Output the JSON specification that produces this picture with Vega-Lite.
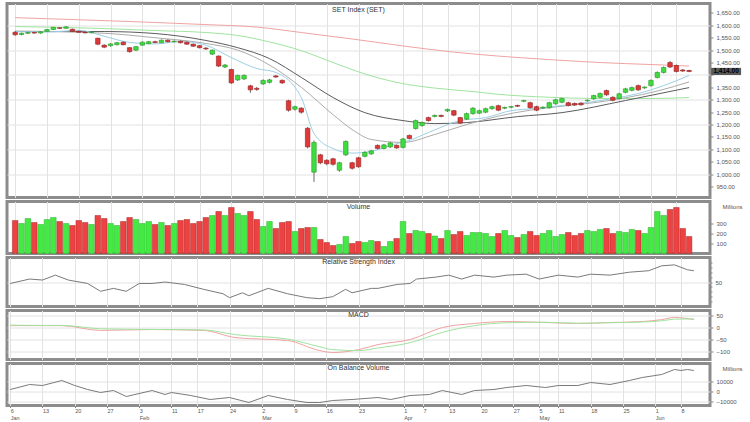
{
  "$schema": "https://vega.github.io/schema/vega-lite/v6.json",
  "padding": {"left": 5, "top": 1.5, "right": 0, "bottom": 0},
  "background": "#ffffff",
  "spacing": 0,
  "config": {
    "view": {"stroke": "#8c8c8c", "strokeWidth": 3, "fill": "#ffffff"},
    "axis": {"labelFont": "Liberation Sans", "labelFontSize": 6, "labelColor": "#555555", "tickColor": "#888888", "domain": false, "gridColor": "#e2e2e2", "gridWidth": 1, "tickSize": 3, "labelPadding": 3, "titleFont": "Liberation Sans", "labelOverlap": false},
    "title": {"font": "Liberation Sans", "fontSize": 7, "fontWeight": "normal", "color": "#333333", "anchor": "middle", "offset": -8}
  },
  "datasets": {
    "candles": [
      {"i":0,"o":1572,"h":1577,"l":1558,"c":1562,"v":330},
      {"i":1,"o":1563,"h":1570,"l":1560,"c":1568,"v":300},
      {"i":2,"o":1568,"h":1574,"l":1565,"c":1571,"v":350},
      {"i":3,"o":1571,"h":1574,"l":1566,"c":1569,"v":310},
      {"i":4,"o":1569,"h":1576,"l":1566,"c":1574,"v":290},
      {"i":5,"o":1576,"h":1585,"l":1574,"c":1583,"v":340},
      {"i":6,"o":1583,"h":1594,"l":1581,"c":1592,"v":360},
      {"i":7,"o":1590,"h":1593,"l":1585,"c":1588,"v":320},
      {"i":8,"o":1588,"h":1597,"l":1586,"c":1594,"v":300},
      {"i":9,"o":1584,"h":1587,"l":1574,"c":1576,"v":280},
      {"i":10,"o":1576,"h":1579,"l":1570,"c":1572,"v":330},
      {"i":11,"o":1572,"h":1575,"l":1567,"c":1570,"v":310},
      {"i":12,"o":1571,"h":1576,"l":1568,"c":1573,"v":290},
      {"i":13,"o":1548,"h":1550,"l":1520,"c":1524,"v":380},
      {"i":14,"o":1520,"h":1524,"l":1508,"c":1512,"v":350},
      {"i":15,"o":1518,"h":1528,"l":1514,"c":1525,"v":300},
      {"i":16,"o":1522,"h":1533,"l":1519,"c":1530,"v":280},
      {"i":17,"o":1532,"h":1535,"l":1519,"c":1522,"v":320},
      {"i":18,"o":1510,"h":1512,"l":1490,"c":1494,"v":360},
      {"i":19,"o":1500,"h":1517,"l":1496,"c":1514,"v":340},
      {"i":20,"o":1520,"h":1535,"l":1518,"c":1532,"v":300},
      {"i":21,"o":1526,"h":1537,"l":1524,"c":1534,"v":320},
      {"i":22,"o":1534,"h":1538,"l":1528,"c":1531,"v":290},
      {"i":23,"o":1530,"h":1543,"l":1528,"c":1540,"v":310},
      {"i":24,"o":1540,"h":1543,"l":1531,"c":1534,"v":280},
      {"i":25,"o":1534,"h":1539,"l":1531,"c":1536,"v":300},
      {"i":26,"o":1536,"h":1539,"l":1527,"c":1530,"v":330},
      {"i":27,"o":1532,"h":1535,"l":1521,"c":1524,"v":340},
      {"i":28,"o":1524,"h":1527,"l":1513,"c":1516,"v":300},
      {"i":29,"o":1518,"h":1521,"l":1507,"c":1510,"v":320},
      {"i":30,"o":1508,"h":1512,"l":1501,"c":1505,"v":360},
      {"i":31,"o":1484,"h":1503,"l":1480,"c":1500,"v":380},
      {"i":32,"o":1476,"h":1479,"l":1432,"c":1436,"v":420},
      {"i":33,"o":1432,"h":1444,"l":1428,"c":1440,"v":380},
      {"i":34,"o":1422,"h":1425,"l":1364,"c":1368,"v":460},
      {"i":35,"o":1380,"h":1401,"l":1376,"c":1398,"v":400},
      {"i":36,"o":1384,"h":1402,"l":1380,"c":1398,"v":380},
      {"i":37,"o":1356,"h":1360,"l":1328,"c":1340,"v":420},
      {"i":38,"o":1346,"h":1352,"l":1336,"c":1342,"v":340},
      {"i":39,"o":1364,"h":1382,"l":1360,"c":1378,"v":270},
      {"i":40,"o":1370,"h":1384,"l":1366,"c":1380,"v":320},
      {"i":41,"o":1396,"h":1400,"l":1388,"c":1392,"v":250},
      {"i":42,"o":1378,"h":1382,"l":1364,"c":1368,"v":310},
      {"i":43,"o":1296,"h":1300,"l":1252,"c":1258,"v":320},
      {"i":44,"o":1262,"h":1276,"l":1256,"c":1272,"v":220},
      {"i":45,"o":1266,"h":1270,"l":1244,"c":1250,"v":250},
      {"i":46,"o":1185,"h":1190,"l":1104,"c":1110,"v":260},
      {"i":47,"o":1008,"h":1136,"l":969,"c":1128,"v":260},
      {"i":48,"o":1078,"h":1082,"l":1040,"c":1046,"v":140},
      {"i":49,"o":1056,"h":1060,"l":1036,"c":1042,"v":110},
      {"i":50,"o":1062,"h":1066,"l":1034,"c":1040,"v":80},
      {"i":51,"o":1016,"h":1050,"l":1010,"c":1046,"v":90},
      {"i":52,"o":1078,"h":1136,"l":1074,"c":1132,"v":170},
      {"i":53,"o":1046,"h":1050,"l":1018,"c":1024,"v":100},
      {"i":54,"o":1066,"h":1070,"l":1026,"c":1030,"v":120},
      {"i":55,"o":1072,"h":1092,"l":1068,"c":1088,"v":110},
      {"i":56,"o":1082,"h":1098,"l":1078,"c":1094,"v":130},
      {"i":57,"o":1116,"h":1120,"l":1100,"c":1104,"v":120},
      {"i":58,"o":1104,"h":1122,"l":1100,"c":1118,"v":70},
      {"i":59,"o":1110,"h":1130,"l":1106,"c":1126,"v":120},
      {"i":60,"o":1116,"h":1120,"l":1102,"c":1106,"v":150},
      {"i":61,"o":1108,"h":1146,"l":1104,"c":1142,"v":320},
      {"i":62,"o":1156,"h":1160,"l":1140,"c":1144,"v":200},
      {"i":63,"o":1184,"h":1220,"l":1180,"c":1216,"v":230},
      {"i":64,"o":1196,"h":1212,"l":1192,"c":1208,"v":220},
      {"i":65,"o":1228,"h":1232,"l":1212,"c":1216,"v":200},
      {"i":66,"o":1233,"h":1240,"l":1229,"c":1237,"v":175},
      {"i":67,"o":1237,"h":1240,"l":1229,"c":1233,"v":150},
      {"i":68,"o":1255,"h":1264,"l":1251,"c":1261,"v":230},
      {"i":69,"o":1256,"h":1259,"l":1234,"c":1238,"v":190},
      {"i":70,"o":1228,"h":1231,"l":1202,"c":1206,"v":220},
      {"i":71,"o":1222,"h":1248,"l":1218,"c":1244,"v":180},
      {"i":72,"o":1244,"h":1270,"l":1240,"c":1266,"v":210},
      {"i":73,"o":1246,"h":1260,"l":1242,"c":1256,"v":210},
      {"i":74,"o":1250,"h":1268,"l":1246,"c":1264,"v":200},
      {"i":75,"o":1264,"h":1276,"l":1260,"c":1272,"v":170},
      {"i":76,"o":1276,"h":1280,"l":1254,"c":1258,"v":200},
      {"i":77,"o":1266,"h":1272,"l":1262,"c":1269,"v":230},
      {"i":78,"o":1270,"h":1275,"l":1266,"c":1272,"v":180},
      {"i":79,"o":1277,"h":1280,"l":1271,"c":1274,"v":160},
      {"i":80,"o":1294,"h":1300,"l":1290,"c":1297,"v":190},
      {"i":81,"o":1288,"h":1292,"l":1264,"c":1268,"v":220},
      {"i":82,"o":1272,"h":1276,"l":1254,"c":1258,"v":180},
      {"i":83,"o":1267,"h":1273,"l":1263,"c":1270,"v":200},
      {"i":84,"o":1268,"h":1292,"l":1264,"c":1288,"v":230},
      {"i":85,"o":1284,"h":1304,"l":1280,"c":1300,"v":170},
      {"i":86,"o":1290,"h":1308,"l":1286,"c":1305,"v":190},
      {"i":87,"o":1288,"h":1292,"l":1273,"c":1277,"v":210},
      {"i":88,"o":1285,"h":1289,"l":1275,"c":1279,"v":180},
      {"i":89,"o":1286,"h":1290,"l":1276,"c":1280,"v":200},
      {"i":90,"o":1296,"h":1301,"l":1292,"c":1298,"v":230},
      {"i":91,"o":1304,"h":1320,"l":1300,"c":1317,"v":220},
      {"i":92,"o":1310,"h":1329,"l":1306,"c":1325,"v":240},
      {"i":93,"o":1337,"h":1341,"l":1316,"c":1320,"v":250},
      {"i":94,"o":1310,"h":1314,"l":1294,"c":1298,"v":200},
      {"i":95,"o":1305,"h":1328,"l":1301,"c":1324,"v":220},
      {"i":96,"o":1330,"h":1348,"l":1326,"c":1344,"v":210},
      {"i":97,"o":1338,"h":1353,"l":1334,"c":1349,"v":240},
      {"i":98,"o":1357,"h":1361,"l":1336,"c":1340,"v":230},
      {"i":99,"o":1348,"h":1354,"l":1344,"c":1351,"v":200},
      {"i":100,"o":1357,"h":1382,"l":1353,"c":1378,"v":260},
      {"i":101,"o":1390,"h":1414,"l":1386,"c":1410,"v":420},
      {"i":102,"o":1410,"h":1434,"l":1406,"c":1430,"v":380},
      {"i":103,"o":1450,"h":1456,"l":1428,"c":1432,"v":440},
      {"i":104,"o":1438,"h":1442,"l":1410,"c":1414,"v":460},
      {"i":105,"o":1420,"h":1424,"l":1412,"c":1416,"v":250},
      {"i":106,"o":1418,"h":1421,"l":1411,"c":1414,"v":170}
    ],
    "ma": [
      {"s":"200","i":0,"v":1631},{"s":"200","i":14,"v":1619},{"s":"200","i":30,"v":1603},{"s":"200","i":38,"v":1593},{"s":"200","i":45,"v":1571},{"s":"200","i":53,"v":1545},{"s":"200","i":61,"v":1517},{"s":"200","i":69,"v":1492},{"s":"200","i":76,"v":1476},{"s":"200","i":84,"v":1462},{"s":"200","i":92,"v":1450},{"s":"200","i":100,"v":1442},{"s":"200","i":106,"v":1436},
      {"s":"100","i":0,"v":1595},{"s":"100","i":14,"v":1587},{"s":"100","i":22,"v":1579},{"s":"100","i":30,"v":1571},{"s":"100","i":35,"v":1559},{"s":"100","i":40,"v":1533},{"s":"100","i":45,"v":1498},{"s":"100","i":50,"v":1450},{"s":"100","i":55,"v":1404},{"s":"100","i":61,"v":1365},{"s":"100","i":66,"v":1347},{"s":"100","i":72,"v":1333},{"s":"100","i":76,"v":1322},{"s":"100","i":84,"v":1310},{"s":"100","i":92,"v":1305},{"s":"100","i":100,"v":1305},{"s":"100","i":106,"v":1309},
      {"s":"50","i":0,"v":1575},{"s":"50","i":14,"v":1575},{"s":"50","i":22,"v":1567},{"s":"50","i":30,"v":1539},{"s":"50","i":35,"v":1510},{"s":"50","i":40,"v":1466},{"s":"50","i":45,"v":1390},{"s":"50","i":50,"v":1309},{"s":"50","i":55,"v":1248},{"s":"50","i":61,"v":1216},{"s":"50","i":66,"v":1204},{"s":"50","i":71,"v":1208},{"s":"50","i":79,"v":1232},{"s":"50","i":86,"v":1248},{"s":"50","i":96,"v":1297},{"s":"50","i":106,"v":1349},
      {"s":"20","i":0,"v":1577},{"s":"20","i":14,"v":1568},{"s":"20","i":22,"v":1550},{"s":"20","i":30,"v":1527},{"s":"20","i":35,"v":1500},{"s":"20","i":40,"v":1440},{"s":"20","i":45,"v":1350},{"s":"20","i":50,"v":1240},{"s":"20","i":53,"v":1180},{"s":"20","i":56,"v":1140},{"s":"20","i":61,"v":1128},{"s":"20","i":66,"v":1160},{"s":"20","i":71,"v":1200},{"s":"20","i":76,"v":1234},{"s":"20","i":81,"v":1258},{"s":"20","i":86,"v":1274},{"s":"20","i":91,"v":1288},{"s":"20","i":96,"v":1308},{"s":"20","i":101,"v":1335},{"s":"20","i":106,"v":1372},
      {"s":"10","i":0,"v":1575},{"s":"10","i":5,"v":1573},{"s":"10","i":10,"v":1580},{"s":"10","i":14,"v":1556},{"s":"10","i":18,"v":1531},{"s":"10","i":22,"v":1525},{"s":"10","i":26,"v":1535},{"s":"10","i":30,"v":1520},{"s":"10","i":34,"v":1470},{"s":"10","i":38,"v":1426},{"s":"10","i":41,"v":1410},{"s":"10","i":45,"v":1309},{"s":"10","i":47,"v":1164},{"s":"10","i":50,"v":1103},{"s":"10","i":53,"v":1085},{"s":"10","i":56,"v":1092},{"s":"10","i":60,"v":1123},{"s":"10","i":62,"v":1136},{"s":"10","i":65,"v":1168},{"s":"10","i":70,"v":1216},{"s":"10","i":74,"v":1228},{"s":"10","i":78,"v":1256},{"s":"10","i":82,"v":1265},{"s":"10","i":86,"v":1277},{"s":"10","i":90,"v":1289},{"s":"10","i":94,"v":1305},{"s":"10","i":98,"v":1325},{"s":"10","i":102,"v":1357},{"s":"10","i":106,"v":1398}
    ],
    "rsi": [
      {"i":0,"v":47},{"i":3,"v":56},{"i":5,"v":54},{"i":7,"v":64},{"i":9,"v":54},{"i":12,"v":47},{"i":14,"v":31},{"i":16,"v":37},{"i":18,"v":31},{"i":20,"v":47},{"i":22,"v":47},{"i":24,"v":50},{"i":27,"v":45},{"i":30,"v":35},{"i":33,"v":26},{"i":34,"v":18},{"i":36,"v":28},{"i":37,"v":22},{"i":40,"v":37},{"i":43,"v":26},{"i":46,"v":18},{"i":48,"v":16},{"i":50,"v":20},{"i":52,"v":35},{"i":53,"v":28},{"i":56,"v":37},{"i":57,"v":37},{"i":60,"v":45},{"i":62,"v":47},{"i":63,"v":56},{"i":66,"v":60},{"i":68,"v":64},{"i":70,"v":56},{"i":72,"v":64},{"i":75,"v":60},{"i":77,"v":64},{"i":80,"v":66},{"i":82,"v":56},{"i":85,"v":64},{"i":88,"v":60},{"i":90,"v":66},{"i":93,"v":64},{"i":96,"v":70},{"i":99,"v":73},{"i":101,"v":83},{"i":103,"v":85},{"i":104,"v":80},{"i":105,"v":75},{"i":106,"v":73}
    ],
    "macd": [
      {"i":0,"m":8,"s":10},{"i":4,"m":8,"s":9},{"i":8,"m":8,"s":9},{"i":14,"m":-12,"s":-5},{"i":22,"m":-8,"s":-8},{"i":30,"m":-12,"s":-10},{"i":35,"m":-42,"s":-30},{"i":43,"m":-54,"s":-48},{"i":48,"m":-96,"s":-80},{"i":50,"m":-104,"s":-92},{"i":54,"m":-92,"s":-96},{"i":57,"m":-71,"s":-85},{"i":62,"m":-50,"s":-63},{"i":67,"m":0,"s":-20},{"i":72,"m":17,"s":8},{"i":77,"m":25,"s":20},{"i":83,"m":21,"s":22},{"i":88,"m":17,"s":18},{"i":93,"m":21,"s":20},{"i":98,"m":25,"s":23},{"i":101,"m":33,"s":28},{"i":103,"m":42,"s":35},{"i":106,"m":33,"s":36}
    ],
    "obv": [
      {"i":0,"v":2000},{"i":3,"v":7000},{"i":5,"v":6000},{"i":8,"v":11000},{"i":10,"v":6000},{"i":12,"v":2000},{"i":14,"v":-1000},{"i":16,"v":1000},{"i":18,"v":-5000},{"i":22,"v":1000},{"i":24,"v":-3000},{"i":25,"v":-1000},{"i":28,"v":-4000},{"i":31,"v":-8000},{"i":34,"v":-6000},{"i":37,"v":-11000},{"i":40,"v":-4000},{"i":43,"v":-8000},{"i":46,"v":-11000},{"i":48,"v":-11000},{"i":50,"v":-9000},{"i":53,"v":-8000},{"i":57,"v":-6000},{"i":59,"v":-8000},{"i":62,"v":-4000},{"i":65,"v":-3000},{"i":67,"v":1000},{"i":70,"v":-3000},{"i":72,"v":1000},{"i":75,"v":2000},{"i":77,"v":4000},{"i":80,"v":6000},{"i":83,"v":4000},{"i":85,"v":6000},{"i":88,"v":6000},{"i":90,"v":9000},{"i":93,"v":7000},{"i":96,"v":11000},{"i":98,"v":14000},{"i":101,"v":17000},{"i":103,"v":22000},{"i":104,"v":21000},{"i":105,"v":22000},{"i":106,"v":21000}
    ]
  },
  "vconcat": [
    {
      "width": 703,
      "height": 194,
      "title": {"text": "SET Index (SET)", "offset": -9},
      "encoding": {
        "x": {"field": "i", "type": "quantitative", "scale": {"domain": [-0.5, 108.5], "nice": false, "zero": false},
          "axis": {"values": [0,5,10,15,20,25,29,34,39,44,49,54,61,64,68,73,78,82,85,90,95,100,104], "labels": false, "ticks": false, "title": null, "grid": true}},
        "y": {"type": "quantitative", "scale": {"domain": [906, 1688], "nice": false, "zero": false},
          "axis": {"orient": "right", "title": null, "values": [950,1000,1050,1100,1150,1200,1250,1300,1350,1400,1450,1500,1550,1600,1650], "format": ",.2f", "labelOverlap": false, "grid": true,
            "labelExpr": "datum.value == 1400 ? '' : datum.label",
            "gridOpacity": {"condition": {"test": "datum.value % 100 == 0", "value": 1}, "value": 0}}}
      },
      "layer": [
        {
          "data": {"name": "ma"},
          "mark": {"type": "line", "strokeWidth": 1, "interpolate": "monotone"},
          "encoding": {
            "y": {"field": "v"},
            "color": {"field": "s", "type": "nominal", "legend": null,
              "scale": {"domain": ["200", "100", "50", "20", "10"], "range": ["#f0a3a3", "#9fe49f", "#5c5c5c", "#ababab", "#9ccfe6"]}},
            "detail": {"field": "s"}
          }
        },
        {
          "data": {"name": "candles"},
          "mark": {"type": "rule", "color": "#666666", "strokeWidth": 1},
          "encoding": {"y": {"field": "l"}, "y2": {"field": "h"}}
        },
        {
          "data": {"name": "candles"},
          "mark": {"type": "bar", "size": 4.5, "orient": "vertical", "strokeWidth": 0.6},
          "encoding": {
            "y": {"field": "o"},
            "y2": {"field": "c"},
            "color": {"condition": {"test": "datum.c >= datum.o", "value": "#3fdc3f"}, "value": "#de3838"},
            "stroke": {"condition": {"test": "datum.c >= datum.o", "value": "#2a9a2a"}, "value": "#992020"}
          }
        },
        {
          "data": {"name": "candles"},
          "transform": [{"filter": "datum.i == 106"}],
          "mark": {"type": "point", "shape": "M-1,-0.24H1V0.24H-1Z", "size": 900, "filled": true, "color": "#5a5a5a", "opacity": 1, "xOffset": 37},
          "encoding": {"y": {"field": "c"}}
        },
        {
          "data": {"name": "candles"},
          "transform": [{"filter": "datum.i == 106"}],
          "mark": {"type": "text", "dx": 37, "fontSize": 6.5, "fontWeight": "bold", "font": "Liberation Sans", "color": "#000000", "align": "center", "baseline": "middle"},
          "encoding": {"y": {"field": "c"}, "text": {"field": "c", "format": ",.2f"}}
        }
      ]
    },
    {
      "width": 703,
      "height": 52,
      "title": {"text": "Volume"},
      "data": {"name": "candles"},
      "mark": {"type": "bar", "size": 5.6, "orient": "vertical", "strokeWidth": 0.5},
      "encoding": {
        "x": {"field": "i", "type": "quantitative", "scale": {"domain": [-0.5, 108.5], "nice": false, "zero": false},
          "axis": {"values": [0,5,10,15,20,25,29,34,39,44,49,54,61,64,68,73,78,82,85,90,95,100,104], "labels": false, "ticks": false, "title": null, "grid": true}},
        "y": {"field": "v", "type": "quantitative", "scale": {"domain": [0, 520], "nice": false},
          "axis": {"orient": "right", "values": [100, 200, 300], "grid": false, "title": "Millions", "titleAngle": 0, "titleX": 12, "titleY": 2, "titleBaseline": "top", "titleAlign": "left", "titleFontSize": 6, "titleFontWeight": "normal", "titleColor": "#555555"}},
        "color": {"condition": {"test": "datum.c >= datum.o", "value": "#44ea44"}, "value": "#ec4242"},
        "stroke": {"condition": {"test": "datum.c >= datum.o", "value": "#2fae2f"}, "value": "#a82a2a"}
      }
    },
    {
      "width": 703,
      "height": 49,
      "title": {"text": "Relative Strength Index", "offset": -7},
      "data": {"name": "rsi"},
      "mark": {"type": "line", "color": "#7a7a7a", "strokeWidth": 1},
      "encoding": {
        "x": {"field": "i", "type": "quantitative", "scale": {"domain": [-0.5, 108.5], "nice": false, "zero": false},
          "axis": {"values": [0,5,10,15,20,25,29,34,39,44,49,54,61,64,68,73,78,82,85,90,95,100,104], "labels": false, "ticks": false, "title": null, "grid": true}},
        "y": {"field": "v", "type": "quantitative", "scale": {"domain": [0, 100], "nice": false},
          "axis": {"orient": "right", "title": null, "values": [10,20,30,40,50,60,70,80,90], "labelExpr": "datum.value == 50 ? '50' : ''", "tickSize": 2, "grid": true,
            "gridOpacity": {"condition": {"test": "datum.value == 50", "value": 1}, "value": 0}}}
      }
    },
    {
      "width": 703,
      "height": 49,
      "title": {"text": "MACD", "offset": -7},
      "data": {"name": "macd"},
      "transform": [{"fold": ["m", "s"], "as": ["k", "val"]}],
      "mark": {"type": "line", "strokeWidth": 1, "interpolate": "monotone"},
      "encoding": {
        "x": {"field": "i", "type": "quantitative", "scale": {"domain": [-0.5, 108.5], "nice": false, "zero": false},
          "axis": {"values": [0,5,10,15,20,25,29,34,39,44,49,54,61,64,68,73,78,82,85,90,95,100,104], "labels": false, "ticks": false, "title": null, "grid": true}},
        "y": {"field": "val", "type": "quantitative", "scale": {"domain": [-133, 71], "nice": false, "zero": false},
          "axis": {"orient": "right", "title": null, "values": [50, 0, -50, -100]}},
        "color": {"field": "k", "type": "nominal", "legend": null, "scale": {"domain": ["m", "s"], "range": ["#7fd97f", "#e59be5"]}}
      }
    },
    {
      "width": 703,
      "height": 42,
      "title": {"text": "On Balance Volume", "offset": -7},
      "data": {"name": "obv"},
      "mark": {"type": "line", "color": "#7a7a7a", "strokeWidth": 1},
      "encoding": {
        "x": {"field": "i", "type": "quantitative", "scale": {"domain": [-0.5, 108.5], "nice": false, "zero": false},
          "axis": {"values": [0,5,10,15,20,25,29,34,39,44,49,54,61,64,68,73,78,82,85,90,95,100,104], "title": null, "grid": true, "labelAlign": "left", "labelPadding": 1, "tickSize": 2, "labelFontSize": 5.5, "labelLineHeight": 6.5, "labelBound": false, "labelFlush": false,
            "labelExpr": "[['6','Jan'],['13'],['20'],['27'],['3','Feb'],['11'],['17'],['24'],['2','Mar'],['9'],['16'],['23'],['1','Apr'],['7'],['13'],['20'],['27'],['5','May'],['11'],['18'],['25'],['1','Jun'],['8']][indexof([0,5,10,15,20,25,29,34,39,44,49,54,61,64,68,73,78,82,85,90,95,100,104], datum.value)]"}},
        "y": {"field": "v", "type": "quantitative", "scale": {"domain": [-14000, 28000], "nice": false, "zero": false},
          "axis": {"orient": "right", "values": [10000, 0, -10000], "format": "d", "title": "Millions", "titleAngle": 0, "titleX": 12, "titleY": 2, "titleBaseline": "top", "titleAlign": "left", "titleFontSize": 6, "titleFontWeight": "normal", "titleColor": "#555555"}}
      }
    }
  ]
}
